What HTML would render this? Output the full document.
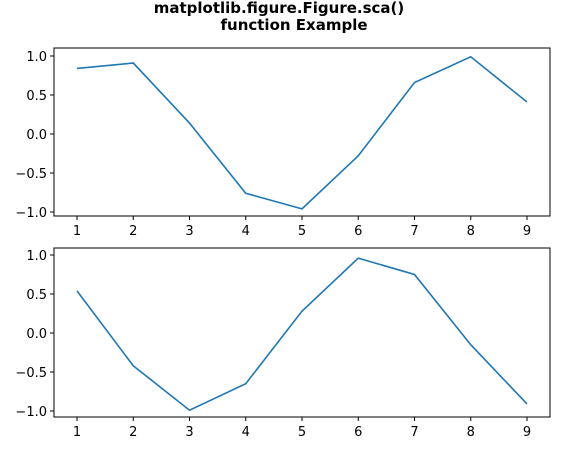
<!DOCTYPE html>
<html><head><meta charset="utf-8"><style>body{margin:0;background:#fff}svg{display:block}text{font-family:"DejaVu Sans","Liberation Sans",sans-serif;font-size:13px;fill:#000}</style></head>
<body>
<svg id="c" width="584" height="457">
<text x="279" y="13" text-anchor="middle" font-weight="bold" style="font-size:15px">matplotlib.figure.Figure.sca()</text>
<text x="294" y="30" text-anchor="middle" font-weight="bold" style="font-size:15px">function Example</text>
</svg>
<script>
const xs=[1,2,3,4,5,6,7,8,9];
const topVals=[0.84,0.91,0.14,-0.76,-0.96,-0.28,0.66,0.99,0.41];
const botVals=[0.54,-0.42,-0.99,-0.65,0.28,0.96,0.75,-0.15,-0.91];
const yTicks=[1.0,0.5,0.0,-0.5,-1.0];
const yLabels=["1.0","0.5","0.0","−0.5","−1.0"];
const NS="http://www.w3.org/2000/svg";
const svg=document.getElementById('c');
function mk(t,a){const e=document.createElementNS(NS,t);for(const k in a)e.setAttribute(k,a[k]);svg.appendChild(e);return e;}
function panel(vals,top,bottom,mid,name){
  const L=54,R=550;
  const sx=v=>77+(v-1)*56.25;
  const sy=v=>mid-78*v;
  const fr=mk('rect',{x:L,y:top,width:R-L,height:bottom-top,fill:'none',stroke:'#000','stroke-width':1});
  
  
  yTicks.forEach((v,i)=>{
    const y=sy(v);
    const tk=mk('line',{x1:L-4,x2:L,y1:y,y2:y,stroke:'#000'});
    
    
    const t=mk('text',{x:L-7,y:y+5,'text-anchor':'end'});t.textContent=yLabels[i];
    
    
  });
  xs.forEach(v=>{
    const x=sx(v);
    const tk=mk('line',{x1:x,x2:x,y1:bottom,y2:bottom+4,stroke:'#000'});
    
    
    const t=mk('text',{x:x,y:bottom+19,'text-anchor':'middle'});t.textContent=v;
    
    
  });
  const p=mk('polyline',{points:xs.map((x,i)=>sx(x)+','+sy(vals[i])).join(' '),fill:'none',stroke:'#1f77b4','stroke-width':1.6});
  
  
}
panel(topVals,48,216,134,'top');
panel(botVals,248,417,333,'bottom');
</script>
</body></html>
